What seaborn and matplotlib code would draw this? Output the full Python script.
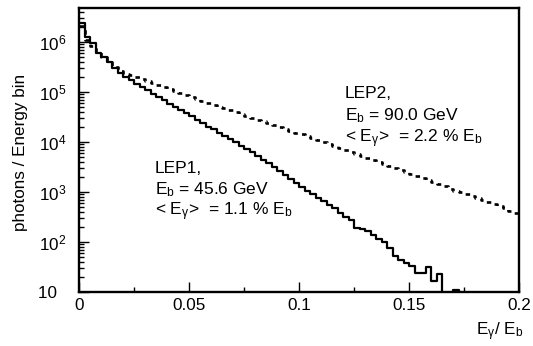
import numpy as np
import pandas as pd
import matplotlib
matplotlib.use("Agg")
import matplotlib.pyplot as plt
import seaborn as sns
from matplotlib.ticker import LogLocator, NullFormatter, MultipleLocator, FixedLocator

# ---------------- data (log10 of photons per bin, 80 bins of width 0.0025 in E_gamma/E_b) ----------------
bin_width = 0.0025
n_bins = 80
lep1_log10 = [
    6.38, 6.10, 5.97, 5.78, 5.69, 5.59, 5.48, 5.38, 5.31, 5.23,
    5.16, 5.09, 5.03, 4.96, 4.90, 4.83, 4.77, 4.70, 4.64, 4.57,
    4.51, 4.44, 4.38, 4.31, 4.25, 4.18, 4.12, 4.05, 3.99, 3.92,
    3.86, 3.79, 3.72, 3.64, 3.57, 3.49, 3.41, 3.33, 3.26, 3.18,
    3.10, 3.02, 2.95, 2.88, 2.82, 2.74, 2.67, 2.59, 2.50, 2.43,
    2.28, 2.26, 2.23, 2.14, 2.06, 2.00, 1.88, 1.72, 1.65, 1.58,
    1.52, 1.38, 1.38, 1.50, 1.22, 1.36, -1.0, -1.0, 1.04, -1.0,
    -1.0, -1.0, -1.0, -1.0, -1.0, -1.0, -1.0, -1.0, -1.0, -1.0,
]
lep2_log10 = [
    6.32, 6.04, 5.93, 5.79, 5.69, 5.59, 5.49, 5.41, 5.36, 5.33,
    5.29, 5.25, 5.21, 5.17, 5.13, 5.09, 5.05, 5.01, 4.97, 4.93,
    4.89, 4.85, 4.81, 4.78, 4.74, 4.70, 4.67, 4.63, 4.59, 4.55,
    4.52, 4.48, 4.44, 4.41, 4.37, 4.33, 4.29, 4.26, 4.22, 4.18,
    4.15, 4.11, 4.07, 4.03, 3.99, 3.95, 3.91, 3.87, 3.83, 3.79,
    3.75, 3.71, 3.67, 3.63, 3.59, 3.55, 3.51, 3.47, 3.43, 3.39,
    3.35, 3.31, 3.27, 3.23, 3.19, 3.15, 3.11, 3.07, 3.03, 2.99,
    2.95, 2.91, 2.87, 2.83, 2.79, 2.75, 2.71, 2.67, 2.63, 2.59,
]
x_ticks = [0, 0.05, 0.1, 0.15, 0.2]
x_tick_labels = ["0", "0.05", "0.1", "0.15", "0.2"]
y_ticks = [1e1, 1e2, 1e3, 1e4, 1e5, 1e6]
y_tick_labels = ["10  ", r"$10^{2}$", r"$10^{3}$", r"$10^{4}$", r"$10^{5}$", r"$10^{6}$"]

# ---------------- style ----------------
sns.set_style("white")
plt.rcParams["font.family"] = ["Liberation Sans", "DejaVu Sans"]
plt.rcParams["mathtext.fontset"] = "custom"
plt.rcParams["mathtext.rm"] = "Liberation Sans"
plt.rcParams["mathtext.it"] = "Liberation Sans:italic"
plt.rcParams["mathtext.default"] = "regular"
plt.rcParams["lines.scale_dashes"] = False
for key in ["text.color", "axes.labelcolor", "xtick.color", "ytick.color", "axes.edgecolor"]:
    plt.rcParams[key] = "black"

edges = np.arange(n_bins + 1) * bin_width
def step_frame(vals):
    counts = 10.0 ** np.asarray(vals)
    return pd.DataFrame({"x": edges, "y": np.append(counts, counts[-1])})

df1 = step_frame(lep1_log10)
df2 = step_frame(lep2_log10)

fig = plt.figure(figsize=(5.33, 3.46), dpi=100)
ax = fig.add_axes([79 / 533, 1 - 292 / 346, (519 - 79) / 533, (292 - 8) / 346])

sns.lineplot(data=df2, x="x", y="y", ax=ax, color="black", lw=1.9,
             drawstyle="steps-post", linestyle=(0, (3.2, 3.8)), estimator=None, sort=False)
sns.lineplot(data=df1, x="x", y="y", ax=ax, color="black", lw=1.6,
             drawstyle="steps-post", estimator=None, sort=False)

ax.set_yscale("log")
ax.set_xlim(0, 0.2)
ax.set_ylim(10, 10 ** (1 + 284 / 50))

ax.xaxis.set_major_locator(FixedLocator(x_ticks))
ax.set_xticklabels(x_tick_labels)
ax.xaxis.set_minor_locator(MultipleLocator(0.025))
ax.yaxis.set_major_locator(FixedLocator(y_ticks))
ax.set_yticklabels(y_tick_labels)
ax.yaxis.set_minor_locator(LogLocator(base=10, subs=np.arange(2, 10)))
ax.yaxis.set_minor_formatter(NullFormatter())

ax.tick_params(which="major", direction="in", length=7.2, width=1.0, labelsize=12.3,
               top=False, right=False, bottom=True, left=True, colors="black")
ax.tick_params(which="minor", direction="in", length=3.6, width=1.0,
               top=False, right=False, bottom=True, left=True, colors="black")
ax.tick_params(axis="x", which="major", pad=4)
ax.tick_params(axis="y", which="major", pad=9)
for s in ax.spines.values():
    s.set_linewidth(1.7)
    s.set_color("black")

ax.set_xlabel("")
ax.set_ylabel("")
fig.text(20 / 533, 1 - 152 / 346, "photons / Energy bin", rotation=90,
         ha="center", va="center", fontsize=12.3, color="black")
fig.text(523 / 533, 1 - 335 / 346, r"E$_{\gamma}$/ E$_{b}$", ha="right", va="baseline",
         fontsize=12.3, color="black")

fs = 12.5
def px2y(py):
    return 10 ** (1 + (292 - py) / 50)
def px2x(px):
    return (px - 79) / 2200

ax.text(px2x(155), px2y(173), "LEP1,", fontsize=fs, va="baseline")
ax.text(px2x(155), px2y(194), r"E$_{b}$ = 45.6 GeV", fontsize=fs, va="baseline")
ax.text(px2x(155), px2y(215), r"< E$_{\gamma}$>  = 1.1 % E$_{b}$", fontsize=fs, va="baseline")
ax.text(px2x(345), px2y(98), "LEP2,", fontsize=fs, va="baseline")
ax.text(px2x(345), px2y(120), r"E$_{b}$ = 90.0 GeV", fontsize=fs, va="baseline")
ax.text(px2x(345), px2y(142), r"< E$_{\gamma}$>  = 2.2 % E$_{b}$", fontsize=fs, va="baseline")

fig.savefig("out.png", dpi=100)
